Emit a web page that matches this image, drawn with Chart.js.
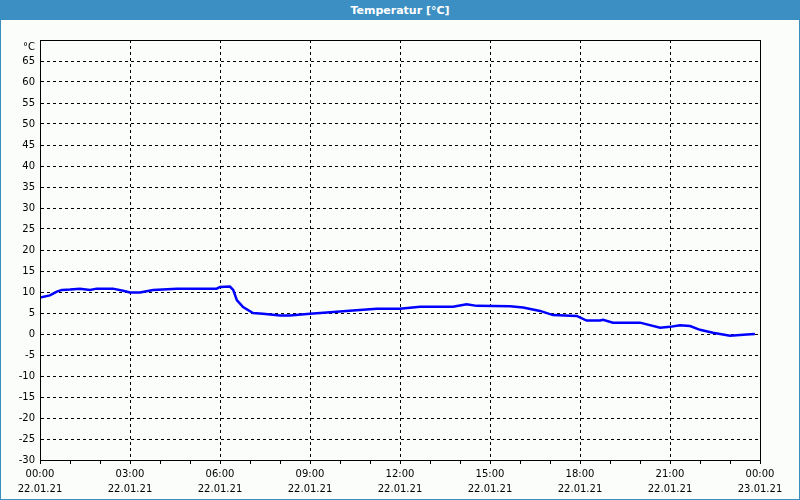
<!DOCTYPE html>
<html>
<head>
<meta charset="utf-8">
<script src="https://cdn.jsdelivr.net/npm/chart.js@4.4.1/dist/chart.umd.min.js"></script>
<style>
    html, body { margin: 0; padding: 0; background: #fbfdfb; }
    #frame { position: relative; width: 798px; height: 499px; border: 1px solid #3b8fc3; border-top: none; background: #fbfdfb; }
    #bar { height: 20px; background: #3b8fc3; color: #fff; font: bold 11px "DejaVu Sans", sans-serif; text-align: center; line-height: 21px; }
    #wrap { position: absolute; left: -1px; top: 20px; width: 800px; height: 479px; }
</style>
</head>
<body>
<div id="frame">
    <div id="bar">Temperatur [°C]</div>
    <div id="wrap"><canvas id="tempChart"></canvas></div>
</div>
<script>
// hours since 22.01.21 00:00 and measured temperature
const hours = [0, 0.33, 0.56, 0.73, 1.0, 1.33, 1.67, 1.89, 2.43, 2.77, 3.0, 3.33, 3.77, 4.56, 5.89, 6.0, 6.33, 6.44, 6.56, 6.77, 7.1, 7.43, 8.0, 8.33, 9.0, 9.56, 10.43, 11.22, 12.0, 12.67, 13.77, 14.22, 14.56, 15.67, 16.1, 16.67, 17.1, 17.89, 18.22, 18.67, 18.77, 19.1, 20.0, 20.67, 21.0, 21.33, 21.67, 22.0, 22.43, 23.0, 23.56, 23.83];
const temps = [8.7, 9.2, 10.1, 10.5, 10.6, 10.8, 10.5, 10.8, 10.8, 10.3, 9.9, 9.9, 10.5, 10.8, 10.8, 11.2, 11.3, 10.5, 8.1, 6.4, 5.0, 4.8, 4.4, 4.4, 4.8, 5.1, 5.6, 6.0, 6.0, 6.5, 6.5, 7.1, 6.7, 6.6, 6.3, 5.5, 4.5, 4.3, 3.2, 3.2, 3.4, 2.7, 2.7, 1.5, 1.7, 2.1, 1.9, 1.0, 0.3, -0.4, -0.1, 0.0];
const timeLabels = ['00:00', '03:00', '06:00', '09:00', '12:00', '15:00', '18:00', '21:00', '00:00'];
const dateLabels = ['22.01.21', '22.01.21', '22.01.21', '22.01.21', '22.01.21', '22.01.21', '22.01.21', '22.01.21', '23.01.21'];
const yMin = -30;
const yMax = 70;
const yUnit = '°C';

const frameBox = {
    id: 'frameBox',
    afterDraw(chart) {
        const a = chart.chartArea;
        const c = chart.ctx;
        c.save();
        c.strokeStyle = '#000';
        c.lineWidth = 1;
        c.strokeRect(Math.round(a.left) + 0.5, Math.round(a.top) + 0.5, Math.round(a.right - a.left), Math.round(a.bottom - a.top));
        c.restore();
    }
};

const font = { family: '"DejaVu Sans", sans-serif', size: 10, lineHeight: 1.5 };

new Chart(document.getElementById('tempChart'), {
    type: 'line',
    data: {
        datasets: [{
            data: hours.map((h, i) => ({ x: h, y: temps[i] })),
            borderColor: '#0000ff',
            borderWidth: 2.5,
            pointRadius: 0,
            tension: 0,
            fill: false
        }]
    },
    options: {
        responsive: true,
        maintainAspectRatio: false,
        animation: false,
        layout: { padding: { top: 20, right: 40, left: 0, bottom: 0 } },
        plugins: { legend: { display: false }, tooltip: { enabled: false } },
        scales: {
            x: {
                type: 'linear',
                min: 0,
                max: 24,
                afterFit: (s) => { s.height = 39; },
                border: { color: '#000', width: 1, dash: [3, 3] },
                grid: {
                    color: (ctx) => (ctx.tick && ctx.tick.value % 3 === 0 && ctx.tick.value > 0 && ctx.tick.value < 24) ? '#000' : 'rgba(0,0,0,0)',
                    tickColor: '#000',
                    tickLength: 4,
                    tickBorderDash: [],
                    drawOnChartArea: true
                },
                ticks: {
                    stepSize: 1,
                    autoSkip: false,
                    maxRotation: 0,
                    padding: 3,
                    color: '#000',
                    font: font,
                    callback: (v) => v % 3 === 0 ? [timeLabels[v / 3], dateLabels[v / 3]] : ''
                }
            },
            y: {
                min: yMin,
                max: yMax,
                afterFit: (s) => { s.width = 40; },
                border: { color: '#000', width: 1, dash: [3, 3] },
                grid: {
                    color: (ctx) => (ctx.tick && ctx.tick.value > yMin && ctx.tick.value < yMax) ? '#000' : 'rgba(0,0,0,0)',
                    drawTicks: false
                },
                ticks: {
                    stepSize: 5,
                    autoSkip: false,
                    padding: 5,
                    color: '#000',
                    font: font,
                    callback: (v) => v === yMax ? ['', yUnit] : String(v)
                }
            }
        }
    },
    plugins: [frameBox]
});
</script>
</body>
</html>
